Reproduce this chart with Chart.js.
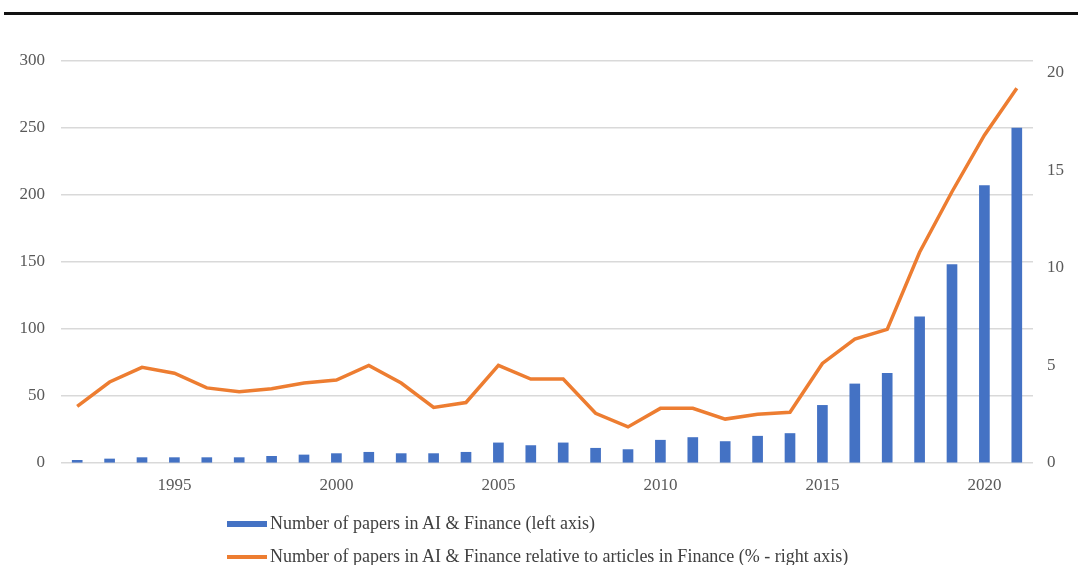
<!DOCTYPE html>
<html>
<head>
<meta charset="utf-8">
<script src="https://cdn.jsdelivr.net/npm/chart.js@4"></script>
<style>
  html, body { margin: 0; padding: 0; background: #fff; }
  #wrap { position: relative; width: 1078px; height: 565px; overflow: hidden; }
  #topline { position: absolute; left: 4px; right: 0; top: 12px; height: 3px; background: #111; }
  #legend { position: absolute; left: 227px; top: 507px; font-family: "Liberation Serif", serif; font-size: 18px; color: #404040; }
  .leg-item { display: flex; align-items: center; height: 33px; white-space: nowrap; }
  .leg-swatch { width: 40px; margin-right: 3px; }
</style>
</head>
<body>
<div id="wrap">
  <div id="topline"></div>
  <canvas id="chart" width="1078" height="565"></canvas>
  <div id="legend"></div>
</div>
<script>
const years = [
  "1992","1993","1994","1995","1996","1997","1998","1999","2000","2001",
  "2002","2003","2004","2005","2006","2007","2008","2009","2010","2011",
  "2012","2013","2014","2015","2016","2017","2018","2019","2020","2021"
];

// number of papers (left axis)
const papers = [
  2, 3, 4, 4, 4, 4, 5, 6, 7, 8,
  7, 7, 8, 15, 13, 15, 11, 10, 17, 19,
  16, 20, 22, 43, 59, 67, 109, 148, 207, 250
];

// share of finance articles, % (right axis)
const sharePct = [
  2.9, 4.15, 4.9, 4.6, 3.85, 3.65, 3.8, 4.1, 4.25, 5.0,
  4.1, 2.85, 3.1, 5.0, 4.3, 4.3, 2.55, 1.85, 2.8, 2.8,
  2.25, 2.5, 2.6, 5.1, 6.35, 6.85, 10.8, 13.9, 16.8, 19.2
];

const seriesNames = [
  "Number of papers in AI & Finance (left axis)",
  "Number of papers in AI & Finance relative to articles in Finance (% - right axis)"
];

const blue = "#4472C4";
const orange = "#ED7D31";
const tickFont = { family: "Liberation Serif", size: 17 };
const tickColor = "#595959";

const ctx = document.getElementById("chart").getContext("2d");
const chart = new Chart(ctx, {
  type: "bar",
  data: {
    labels: years,
    datasets: [
      {
        type: "line",
        label: seriesNames[1],
        data: sharePct,
        yAxisID: "yRight",
        borderColor: orange,
        backgroundColor: orange,
        borderWidth: 3.5,
        pointRadius: 0,
        tension: 0,
        order: 0
      },
      {
        type: "bar",
        label: seriesNames[0],
        data: papers,
        yAxisID: "yLeft",
        backgroundColor: blue,
        barThickness: 10,
        order: 1
      }
    ]
  },
  options: {
    responsive: false,
    animation: false,
    layout: { padding: { top: 61, left: 0, right: 0, bottom: 67 } },
    plugins: {
      legend: { display: false },
      tooltip: { enabled: false }
    },
    scales: {
      x: {
        offset: true,
        grid: { display: false, drawTicks: false },
        border: { display: false },
        ticks: {
          autoSkip: false,
          maxRotation: 0,
          padding: 12,
          color: tickColor,
          font: tickFont,
          callback: function (v, i) {
            const y = Number(years[i]);
            return y % 5 === 0 ? years[i] : "";
          }
        },
        afterFit: s => { s.height = 35; }
      },
      yLeft: {
        position: "left",
        min: 0,
        max: 300,
        ticks: { stepSize: 50, color: tickColor, font: tickFont, padding: 16 },
        grid: { color: "#d9d9d9", lineWidth: 1.5, drawTicks: false },
        border: { display: false },
        afterFit: s => { s.width = 61; }
      },
      yRight: {
        position: "right",
        min: 0,
        max: 20.6,
        ticks: { stepSize: 5, includeBounds: false, color: tickColor, font: tickFont, padding: 14 },
        grid: { display: false, drawTicks: false },
        border: { display: false },
        afterFit: s => { s.width = 45; }
      }
    }
  }
});

// legend stacked in two rows, left aligned like the original
const legend = document.getElementById("legend");
chart.data.datasets.slice().reverse().forEach(ds => {
  const item = document.createElement("div");
  item.className = "leg-item";
  const sw = document.createElement("span");
  sw.className = "leg-swatch";
  sw.style.background = ds.type === "line" ? ds.borderColor : ds.backgroundColor;
  sw.style.height = ds.type === "line" ? "4px" : "6px";
  const txt = document.createElement("span");
  txt.textContent = ds.label;
  item.appendChild(sw);
  item.appendChild(txt);
  legend.appendChild(item);
});
</script>
</body>
</html>
